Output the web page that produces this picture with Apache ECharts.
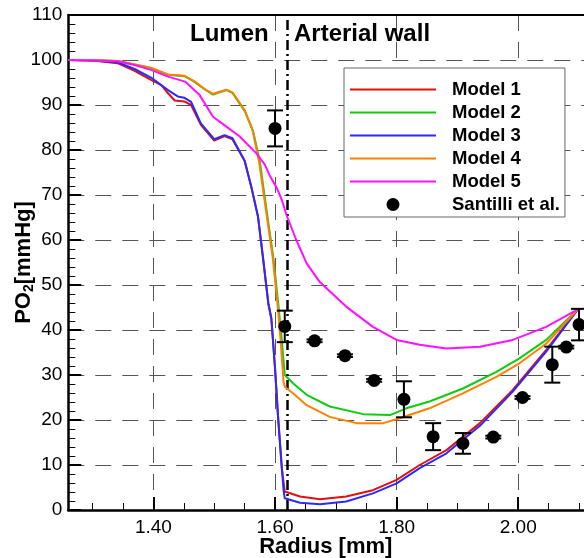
<!DOCTYPE html>
<html>
<head>
<meta charset="utf-8">
<title>PO2 profile across lumen and arterial wall</title>
<script src="https://cdn.jsdelivr.net/npm/echarts@6/dist/echarts.min.js"></script>
<style>
  html, body { margin: 0; padding: 0; background: #fff; }
  #chart { width: 584px; height: 558px; }
</style>
</head>
<body>
<div id="chart"></div>
<script>
// Oxygen partial pressure [mmHg] against radius [mm], pairs of [radius, PO2]
const model1 = [
  [1.26, 100], [1.30, 99.9], [1.341, 99.3], [1.369, 97.6], [1.396, 95.6], [1.413, 94.4],
  [1.424, 92.6], [1.435, 91.0], [1.451, 90.8], [1.462, 90.0], [1.478, 85.6], [1.500, 82.1],
  [1.517, 83.1], [1.530, 82.4], [1.550, 77.6], [1.561, 71.8], [1.572, 65.2], [1.580, 56.3],
  [1.589, 45.9], [1.594, 42.5], [1.600, 31.5], [1.605, 20.7], [1.611, 9.6], [1.616, 4.1],
  [1.641, 3.0], [1.674, 2.4], [1.717, 3.0], [1.761, 4.4], [1.800, 6.7], [1.838, 10.0],
  [1.882, 13.3], [1.937, 19.3], [1.991, 26.7], [2.046, 35.6], [2.098, 44.6]
];
const model2 = [
  [1.26, 100], [1.30, 100], [1.341, 99.8], [1.396, 98.2], [1.424, 96.7], [1.451, 96.4],
  [1.467, 95.2], [1.484, 93.5], [1.498, 92.3], [1.520, 93.3], [1.530, 92.7], [1.550, 88.7],
  [1.564, 84.2], [1.575, 77.4], [1.586, 66.7], [1.597, 56.3], [1.606, 45.0], [1.611, 38.0],
  [1.616, 30.0], [1.630, 28.1], [1.652, 25.6], [1.690, 23.0], [1.745, 21.3], [1.789, 21.1],
  [1.816, 22.6], [1.854, 24.1], [1.909, 27.0], [1.964, 30.7], [2.002, 33.7], [2.046, 37.8],
  [2.098, 44.6]
];
const model3 = [
  [1.26, 100], [1.30, 99.9], [1.341, 99.5], [1.369, 98.0], [1.396, 96.1], [1.424, 93.3],
  [1.440, 91.9], [1.451, 91.6], [1.462, 90.7], [1.478, 85.9], [1.500, 82.4], [1.517, 83.3],
  [1.530, 82.6], [1.550, 77.6], [1.561, 71.8], [1.572, 65.2], [1.580, 56.3], [1.589, 45.9],
  [1.594, 42.5], [1.600, 31.5], [1.605, 20.7], [1.611, 9.6], [1.614, 4.4], [1.616, 2.6],
  [1.641, 1.6], [1.674, 1.3], [1.717, 1.9], [1.761, 3.7], [1.800, 5.9], [1.838, 9.3],
  [1.882, 12.6], [1.937, 18.7], [1.991, 26.3], [2.046, 35.2], [2.098, 44.6]
];
const model4 = [
  [1.26, 100], [1.30, 100], [1.341, 99.8], [1.396, 98.3], [1.424, 96.8], [1.451, 96.5],
  [1.467, 95.3], [1.484, 93.6], [1.498, 92.5], [1.520, 93.4], [1.530, 92.8], [1.550, 88.9],
  [1.563, 84.4], [1.574, 77.2], [1.585, 66.7], [1.596, 56.3], [1.604, 46.0], [1.609, 38.0],
  [1.614, 28.5], [1.616, 27.4], [1.630, 25.9], [1.652, 23.3], [1.690, 20.7], [1.734, 19.3],
  [1.778, 19.3], [1.805, 20.4], [1.854, 22.6], [1.909, 25.9], [1.964, 29.6], [2.002, 32.6],
  [2.046, 37.0], [2.098, 44.6]
];
const model5 = [
  [1.26, 100], [1.30, 99.9], [1.341, 99.7], [1.369, 98.9], [1.396, 97.8], [1.424, 96.3],
  [1.452, 95.2], [1.476, 92.2], [1.498, 87.4], [1.520, 85.2], [1.542, 83.0], [1.569, 79.3],
  [1.583, 76.8], [1.591, 74.4], [1.602, 71.8], [1.611, 69.0], [1.619, 65.5], [1.635, 60.0],
  [1.652, 54.8], [1.674, 50.6], [1.717, 45.2], [1.761, 40.7], [1.800, 37.8], [1.838, 36.7],
  [1.882, 35.9], [1.937, 36.3], [1.991, 37.8], [2.046, 40.7], [2.098, 44.6]
];
// Measurements: [radius, PO2, error]
const santilli = [
  [1.600, 84.8, 4.0], [1.616, 40.8, 3.5], [1.665, 37.6, 0.3], [1.715, 34.3, 0.3],
  [1.763, 28.8, 0.3], [1.812, 24.6, 4.0], [1.860, 16.3, 3.0], [1.909, 14.8, 2.3],
  [1.959, 16.2, 0.3], [2.007, 25.0, 0.3], [2.056, 32.3, 4.0], [2.079, 36.2, 0.3],
  [2.100, 41.2, 3.5]
];
const seriesNames = ['Model 1', 'Model 2', 'Model 3', 'Model 4', 'Model 5', 'Santilli et al.'];
const seriesColors = ['#e01010', '#10cc10', '#2a2aff', '#ff8000', '#ff10ff', '#000000'];
const majorRadii = [1.40, 1.60, 1.80, 2.00];
const minorRadii = [1.30, 1.35, 1.45, 1.50, 1.55, 1.65, 1.70, 1.75, 1.85, 1.90, 1.95, 2.05, 2.10];
const interfaceRadius = 1.616;
const regionLabels = ['Lumen', 'Arterial wall'];

const FONT = '"Liberation Sans", Arial, Helvetica, sans-serif';
const chart = echarts.init(document.getElementById('chart'), null, { renderer: 'canvas' });

const xRange = { min: 1.26, max: 2.12 };
const dashed = { color: '#555', width: 1, type: [16, 11] };

function lineSeries(idx, data, extra) {
  return Object.assign({
    name: seriesNames[idx],
    type: 'line',
    data: data,
    symbol: 'none',
    showSymbol: false,
    smooth: false,
    color: seriesColors[idx],
    lineStyle: { color: seriesColors[idx], width: 2 },
    z: 3 + idx
  }, extra || {});
}

// Legend entries: model lines without a marker, measurements as a dot
const legendData = seriesNames.map((name, i) =>
  i < 5 ? { name: name, itemStyle: { opacity: 0 } } : { name: name, itemStyle: { color: '#000', opacity: 1 } }
);

const option = {
  animation: false,
  backgroundColor: '#fff',
  textStyle: { fontFamily: FONT },
  grid: { left: 68.3, top: 15, width: 522.9, height: 495, outerBoundsMode: 'none', containLabel: false },
  legend: {
    data: legendData,
    orient: 'vertical',
    left: 344,
    top: 68,
    itemWidth: 86,
    itemHeight: 13,
    itemGap: 4,
    padding: [12, 5, 3, 5],
    backgroundColor: '#fff',
    borderColor: '#666',
    borderWidth: 1,
    selectedMode: false,
    textStyle: {
      fontFamily: FONT, fontSize: 18.5, fontWeight: 'bold', color: '#000',
      padding: [0, 0, 0, 11]
    },
    z: 20
  },
  xAxis: [
    {
      type: 'value', gridIndex: 0, position: 'bottom', min: xRange.min, max: xRange.max,
      axisLine: { show: true, onZero: false, lineStyle: { color: '#000', width: 2.5 } },
      axisTick: { show: true, inside: true, length: 13, customValues: majorRadii, lineStyle: { color: '#000', width: 2 } },
      minorTick: { show: false },
      axisLabel: {
        customValues: majorRadii, margin: 8, color: '#000', fontSize: 19, fontFamily: FONT,
        formatter: v => v.toFixed(2)
      },
      splitLine: { show: true, lineStyle: dashed },
      name: 'Radius [mm]', nameLocation: 'middle', nameGap: 26, nameMoveOverlap: false,
      nameTextStyle: { fontSize: 22, fontWeight: 'bold', color: '#000', fontFamily: FONT, padding: [0, 8, 0, 0] }
    },
    {
      type: 'value', gridIndex: 0, position: 'bottom', min: xRange.min, max: xRange.max,
      axisLine: { show: false },
      axisTick: { show: true, inside: true, length: 7, customValues: minorRadii, lineStyle: { color: '#000', width: 1 } },
      axisLabel: { show: false },
      splitLine: { show: false }
    },
    {
      type: 'value', gridIndex: 0, position: 'top', min: xRange.min, max: xRange.max,
      axisLine: { show: true, onZero: false, lineStyle: { color: '#000', width: 2 } },
      axisTick: { show: false },
      axisLabel: { show: false },
      splitLine: { show: false }
    }
  ],
  yAxis: {
    type: 'value', min: 0, max: 110, interval: 10,
    axisLine: { show: true, onZero: false, lineStyle: { color: '#000', width: 2.5 } },
    axisTick: { show: true, inside: true, length: 13, lineStyle: { color: '#000', width: 2 } },
    minorTick: { show: true, splitNumber: 5, length: 7, lineStyle: { color: '#000', width: 1 } },
    axisLabel: { margin: 6, color: '#000', fontSize: 19, fontFamily: FONT },
    splitLine: { show: true, lineStyle: dashed },
    name: 'PO{s|2}[mmHg]', nameLocation: 'middle', nameGap: 32, nameMoveOverlap: false,
    nameTextStyle: {
      fontSize: 22, fontWeight: 'bold', color: '#000', fontFamily: FONT, lineHeight: 24,
      rich: { s: { fontSize: 14, fontWeight: 'bold', color: '#000', lineHeight: 14, verticalAlign: 'bottom', fontFamily: FONT } }
    }
  },
  graphic: [
    { type: 'text', left: 190, top: 22, z: 30,
      style: { text: regionLabels[0], font: 'bold 24px ' + FONT, fill: '#000' } },
    { type: 'text', left: 294, top: 22, z: 30,
      style: { text: regionLabels[1], font: 'bold 24px ' + FONT, fill: '#000' } }
  ],
  series: [
    lineSeries(0, model1, {
      markLine: {
        silent: true, symbol: 'none', label: { show: false },
        lineStyle: { color: '#000', width: 2.5, type: [10, 4, 2, 4] },
        data: [{ xAxis: interfaceRadius }]
      }
    }),
    lineSeries(1, model2),
    lineSeries(2, model3),
    lineSeries(3, model4),
    lineSeries(4, model5),
    {
      name: 'error',
      type: 'custom',
      data: santilli,
      encode: { x: 0, y: 1 },
      z: 10,
      renderItem: function (params, api) {
        const x = api.value(0), y = api.value(1), e = api.value(2);
        const top = api.coord([x, y + e]);
        const bot = api.coord([x, y - e]);
        const cap = 8;
        const st = { stroke: '#000', lineWidth: 2 };
        return {
          type: 'group',
          children: [
            { type: 'line', shape: { x1: top[0], y1: top[1], x2: bot[0], y2: bot[1] }, style: st },
            { type: 'line', shape: { x1: top[0] - cap, y1: top[1], x2: top[0] + cap, y2: top[1] }, style: st },
            { type: 'line', shape: { x1: bot[0] - cap, y1: bot[1], x2: bot[0] + cap, y2: bot[1] }, style: st }
          ]
        };
      }
    },
    {
      name: seriesNames[5],
      type: 'scatter',
      data: santilli.map(d => [d[0], d[1]]),
      symbol: 'circle',
      symbolSize: 13,
      color: '#000',
      itemStyle: { color: '#000', opacity: 1 },
      z: 11
    }
  ]
};
chart.setOption(option);
</script>
</body>
</html>
